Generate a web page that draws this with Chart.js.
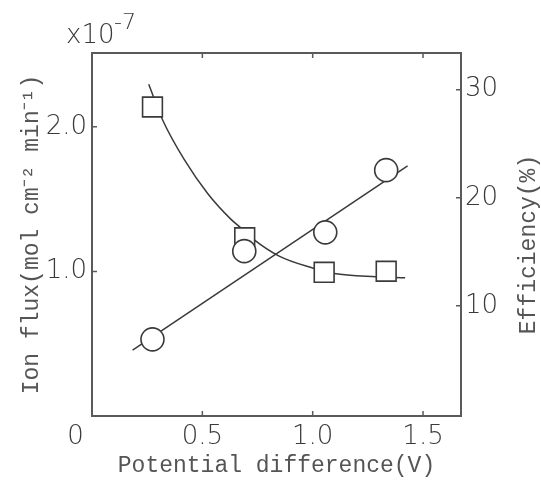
<!DOCTYPE html>
<html>
<head>
<meta charset="utf-8">
<script src="https://cdn.jsdelivr.net/npm/chart.js@4/dist/chart.umd.min.js"></script>
<style>
  html, body { margin: 0; padding: 0; background: #fff; }
  canvas { display: block; }
</style>
</head>
<body>
<canvas id="c" width="541" height="484"></canvas>
<script>
// ---- data ----
const xTickValues = [0, 0.5, 1.0, 1.5];
const xTickLabels = ['0', '0.5', '1.0', '1.5'];
const fluxTickValues = [1.0, 2.0];
const fluxTickLabels = ['1.0', '2.0'];
const effTickValues = [10, 20, 30];
const effTickLabels = ['10', '20', '30'];
const rightTitle = 'Efficiency(%)';

// Ion flux (x10^-7 mol cm^-2 min^-1), circles
const fluxX = [0.274, 0.690, 1.057, 1.333];
const fluxY = [0.53, 1.14, 1.27, 1.70];
// Ion flux fitted straight line (end points)
const fluxLineX = [0.184, 1.430];
const fluxLineY = [0.455, 1.73];

// Efficiency (%), squares
const effX = [0.274, 0.692, 1.052, 1.333];
const effY = [28.4, 16.3, 13.1, 13.2];
// Efficiency fitted curve
const effCurveX = [0.257, 0.320, 0.419, 0.524, 0.630, 0.675, 0.735, 0.848, 0.999, 1.097, 1.286, 1.419];
const effCurveY = [30.5, 27.2, 23.5, 20.4, 18.0, 17.2, 16.1, 14.6, 13.5, 13.0, 12.7, 12.6];

const toPts = (xs, ys) => xs.map((x, i) => ({ x: x, y: ys[i] }));

const frameColor = '#5a5a5a';
const inkColor = '#3a3a3a';
const tickFont = { family: 'DejaVu Sans', size: 26, weight: 200, lineHeight: 1.2 };
const titleFont = { family: 'Liberation Mono', size: 23, lineHeight: 1 };

const inwardTicks = {
  id: 'inwardTicks',
  afterDraw(chart) {
    const ctx = chart.ctx;
    const a = chart.chartArea;
    const len = 5;
    ctx.save();
    ctx.strokeStyle = frameColor;
    ctx.lineWidth = 1.5;
    ctx.beginPath();
    const sx = chart.scales.x;
    xTickValues.forEach(v => {
      if (v === 0) return;
      const px = sx.getPixelForValue(v);
      ctx.moveTo(px, a.bottom); ctx.lineTo(px, a.bottom - len);
      ctx.moveTo(px, a.top); ctx.lineTo(px, a.top + len);
    });
    const sy = chart.scales.y;
    fluxTickValues.forEach(v => {
      const py = sy.getPixelForValue(v);
      ctx.moveTo(a.left, py); ctx.lineTo(a.left + len, py);
    });
    const sy2 = chart.scales.y2;
    effTickValues.forEach(v => {
      const py = sy2.getPixelForValue(v);
      ctx.moveTo(a.right, py); ctx.lineTo(a.right - len, py);
    });
    ctx.stroke();

    // exponent label for the left axis
    ctx.fillStyle = inkColor;
    ctx.textBaseline = 'alphabetic';
    ctx.textAlign = 'left';
    ctx.font = '200 26px "DejaVu Sans"';
    ctx.fillText('x10', a.left - 26, a.top - 10);
    ctx.font = '200 22px "DejaVu Sans"';
    ctx.fillText('-7', a.left + 22, a.top - 24);

    // right axis title, reading bottom-to-top
    ctx.fillStyle = '#555';
    ctx.font = '23px "Liberation Mono"';
    ctx.textAlign = 'center';
    ctx.textBaseline = 'middle';
    ctx.translate(529, (a.top + a.bottom) / 2 + 10);
    ctx.rotate(-Math.PI / 2);
    ctx.fillText(rightTitle, 0, 0);
    ctx.restore();
  }
};

const setTicks = (vals) => (scale) => { scale.ticks = vals.map(v => ({ value: v })); };

new Chart(document.getElementById('c'), {
  type: 'scatter',
  data: {
    datasets: [
      {
        label: 'Ion flux',
        data: toPts(fluxX, fluxY),
        yAxisID: 'y',
        showLine: false,
        pointStyle: 'circle',
        pointRadius: 11.5,
        pointBorderWidth: 1.6,
        pointBackgroundColor: '#fff',
        pointBorderColor: inkColor,
        order: 0
      },
      {
        label: 'Efficiency',
        data: toPts(effX, effY),
        yAxisID: 'y2',
        showLine: false,
        pointStyle: 'rect',
        pointRadius: 14,
        pointBorderWidth: 1.6,
        pointBackgroundColor: '#fff',
        pointBorderColor: inkColor,
        order: 0
      },
      {
        label: 'Ion flux fit',
        data: toPts(fluxLineX, fluxLineY),
        yAxisID: 'y',
        showLine: true,
        pointRadius: 0,
        borderColor: inkColor,
        borderWidth: 1.5,
        order: 1
      },
      {
        label: 'Efficiency fit',
        data: toPts(effCurveX, effCurveY),
        yAxisID: 'y2',
        showLine: true,
        pointRadius: 0,
        borderColor: inkColor,
        borderWidth: 1.5,
        cubicInterpolationMode: 'monotone',
        tension: 0.4,
        order: 1
      }
    ]
  },
  options: {
    responsive: false,
    animation: false,
    devicePixelRatio: 1,
    layout: { padding: 0 },
    plugins: { legend: { display: false }, tooltip: { enabled: false } },
    scales: {
      x: {
        type: 'linear', position: 'bottom', min: 0, max: 1.672,
        afterBuildTicks: setTicks(xTickValues),
        afterFit: (s) => { s.height = 68; },
        grid: { display: false, drawTicks: false },
        border: { display: true, color: frameColor, width: 2 },
        ticks: {
          padding: 6, color: inkColor, font: tickFont, maxRotation: 0, autoSkip: false,
          callback: (v) => {
            const i = xTickValues.indexOf(v);
            const lab = i >= 0 ? xTickLabels[i] : '';
            return v === 0 ? lab + '\u00a0\u00a0\u00a0\u00a0' : lab;
          }
        },
        title: { display: true, text: 'Potential difference(V)', color: '#555', font: titleFont, padding: { top: 0, bottom: 7 } }
      },
      xTop: {
        type: 'linear', position: 'top', min: 0, max: 1.672,
        afterFit: (s) => { s.height = 53; },
        grid: { display: false, drawTicks: false },
        border: { display: true, color: frameColor, width: 2 },
        ticks: { display: false }
      },
      y: {
        type: 'linear', position: 'left', min: 0, max: 2.51,
        afterBuildTicks: setTicks(fluxTickValues),
        afterFit: (s) => { s.width = 92; },
        grid: { display: false, drawTicks: false },
        border: { display: true, color: frameColor, width: 2 },
        ticks: {
          padding: 5, color: inkColor, font: tickFont,
          callback: (v) => { const i = fluxTickValues.indexOf(v); return i >= 0 ? fluxTickLabels[i] : ''; }
        },
        title: { display: true, text: 'Ion flux(mol cm⁻² min⁻¹)', color: '#555', font: titleFont, padding: { top: 20, bottom: 0 } }
      },
      y2: {
        type: 'linear', position: 'right', min: -0.2, max: 33.4,
        afterBuildTicks: setTicks(effTickValues),
        afterFit: (s) => { s.width = 80; },
        grid: { display: false, drawTicks: false },
        border: { display: true, color: frameColor, width: 2 },
        ticks: {
          padding: 4, color: inkColor, font: tickFont,
          callback: (v) => { const i = effTickValues.indexOf(v); return i >= 0 ? effTickLabels[i] : ''; }
        },
        title: { display: false }
      }
    }
  },
  plugins: [inwardTicks]
});
</script>
</body>
</html>
